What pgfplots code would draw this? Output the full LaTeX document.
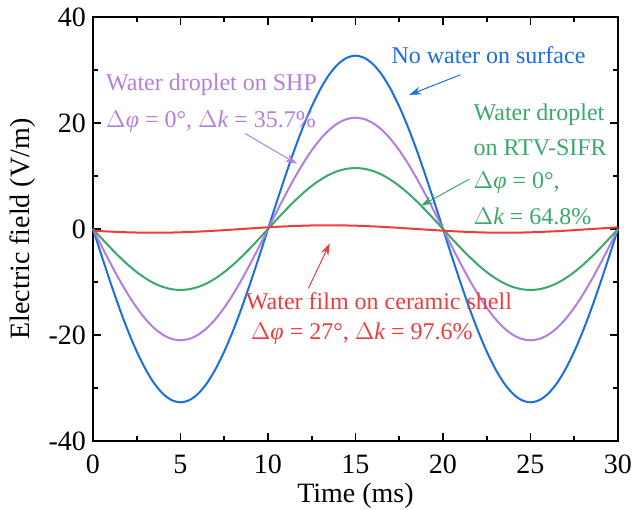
\documentclass[border=0pt]{standalone}
\usepackage{pgfplots}
\pgfplotsset{compat=1.18}
\usepackage{pgfplotstable}
\usepackage{fontspec}
\setmainfont{Liberation Serif}
\usetikzlibrary{arrows.meta}
\definecolor{cblue}{HTML}{1A6EE0}
\definecolor{cpurple}{HTML}{B47EE0}
\definecolor{cgreen}{HTML}{3AA86A}
\definecolor{cred}{HTML}{EE3C3C}
\pgfplotstableread{
t b p g r
0 0 0 0 -0.318
0.5 -5.12 -3.29 -1.80 -0.411
1 -10.10 -6.49 -3.55 -0.495
1.5 -14.85 -9.53 -5.22 -0.566
2 -19.22 -12.34 -6.76 -0.624
2.5 -23.12 -14.85 -8.13 -0.666
3 -26.45 -16.99 -9.30 -0.691
3.5 -29.14 -18.71 -10.25 -0.700
4 -31.10 -19.97 -10.94 -0.691
4.5 -32.30 -20.74 -11.36 -0.666
5 -32.70 -21.00 -11.50 -0.624
5.5 -32.30 -20.74 -11.36 -0.566
6 -31.10 -19.97 -10.94 -0.495
6.5 -29.14 -18.71 -10.25 -0.411
7 -26.45 -16.99 -9.30 -0.318
7.5 -23.12 -14.85 -8.13 -0.216
8 -19.22 -12.34 -6.76 -0.109
8.5 -14.85 -9.53 -5.22 0
9 -10.10 -6.49 -3.55 0.109
9.5 -5.12 -3.29 -1.80 0.216
10 0 0 0 0.318
10.5 5.12 3.29 1.80 0.411
11 10.10 6.49 3.55 0.495
11.5 14.85 9.53 5.22 0.566
12 19.22 12.34 6.76 0.624
12.5 23.12 14.85 8.13 0.666
13 26.45 16.99 9.30 0.691
13.5 29.14 18.71 10.25 0.700
14 31.10 19.97 10.94 0.691
14.5 32.30 20.74 11.36 0.666
15 32.70 21.00 11.50 0.624
15.5 32.30 20.74 11.36 0.566
16 31.10 19.97 10.94 0.495
16.5 29.14 18.71 10.25 0.411
17 26.45 16.99 9.30 0.318
17.5 23.12 14.85 8.13 0.216
18 19.22 12.34 6.76 0.109
18.5 14.85 9.53 5.22 0
19 10.10 6.49 3.55 -0.109
19.5 5.12 3.29 1.80 -0.216
20 0 0 0 -0.318
20.5 -5.12 -3.29 -1.80 -0.411
21 -10.10 -6.49 -3.55 -0.495
21.5 -14.85 -9.53 -5.22 -0.566
22 -19.22 -12.34 -6.76 -0.624
22.5 -23.12 -14.85 -8.13 -0.666
23 -26.45 -16.99 -9.30 -0.691
23.5 -29.14 -18.71 -10.25 -0.700
24 -31.10 -19.97 -10.94 -0.691
24.5 -32.30 -20.74 -11.36 -0.666
25 -32.70 -21.00 -11.50 -0.624
25.5 -32.30 -20.74 -11.36 -0.566
26 -31.10 -19.97 -10.94 -0.495
26.5 -29.14 -18.71 -10.25 -0.411
27 -26.45 -16.99 -9.30 -0.318
27.5 -23.12 -14.85 -8.13 -0.216
28 -19.22 -12.34 -6.76 -0.109
28.5 -14.85 -9.53 -5.22 0
29 -10.10 -6.49 -3.55 0.109
29.5 -5.12 -3.29 -1.80 0.216
30 0 0 0 0.318
}\datatable
\begin{document}
\begin{tikzpicture}
\begin{axis}[
  scale only axis,
  width=262.5pt, height=212pt,
  xmin=0, xmax=30, ymin=-40, ymax=40,
  xtick={0,5,...,30}, ytick={-40,-20,0,20,40},
  minor x tick num=1, minor y tick num=1,
  tick align=inside,
  major tick length=4pt, minor tick length=2.5pt,
  axis line style={line width=1pt},
  every tick/.style={black, line width=0.8pt},
  /pgf/number format/assume math mode=true,
  tick label style={font=\fontsize{14}{16}\selectfont},
  xticklabel style={yshift=-3.5pt},
  xlabel={Time (ms)}, ylabel={Electric field (V/m)},
  label style={font=\fontsize{14}{16}\selectfont},
  xlabel style={at={(axis description cs:0.5,0)}, anchor=center, yshift=-27.5pt},
  ylabel style={at={(axis description cs:0,0.5)}, anchor=center, yshift=35pt},
  clip=false,
]
\addplot[cblue, line width=1pt, smooth] table[x=t, y=b] {\datatable};
\addplot[cpurple, line width=1pt, smooth] table[x=t, y=p] {\datatable};
\addplot[cgreen, line width=1pt, smooth] table[x=t, y=g] {\datatable};
\addplot[cred, line width=1pt, smooth] table[x=t, y=r] {\datatable};

\begin{scope}[font=\fontsize{12}{14}\selectfont]
\node[cblue, anchor=center] at (axis cs:22.6,32.8) {No water on surface};
\draw[cblue, line width=0.5pt, -{Stealth[length=6pt,width=4pt]}] (axis cs:21.0,29.1) -- (axis cs:18.07,25.3);

\node[cpurple, anchor=west, inner sep=0pt] at (axis cs:0.73,27.2) {Water droplet on SHP};
\node[cpurple, anchor=west, inner sep=0pt] at (axis cs:0.73,20.3) {$\Delta${\itshape φ} = 0°, $\Delta${\itshape k} = 35.7\%};
\draw[cpurple, line width=0.5pt, -{Stealth[length=6pt,width=4pt]}] (axis cs:8.70,18.0) -- (axis cs:11.65,12.3);

\node[cgreen, anchor=west, inner sep=0pt] at (axis cs:21.73,21.6) {Water droplet};
\node[cgreen, anchor=west, inner sep=0pt] at (axis cs:21.73,15.3) {on RTV-SIFR};
\node[cgreen, anchor=west, inner sep=0pt] at (axis cs:21.73,8.7) {$\Delta${\itshape φ} = 0°,};
\node[cgreen, anchor=west, inner sep=0pt] at (axis cs:21.73,2.45) {$\Delta${\itshape k} = 64.8\%};
\draw[cgreen, line width=0.5pt, -{Stealth[length=6pt,width=4pt]}] (axis cs:21.5,9.4) -- (axis cs:18.75,4.4);

\node[cred, anchor=west, inner sep=0pt] at (axis cs:8.72,-13.7) {Water film on ceramic shell};
\node[cred, anchor=west, inner sep=0pt] at (axis cs:9.0,-19.8) {$\Delta${\itshape φ} = 27°, $\Delta${\itshape k} = 97.6\%};
\draw[cred, line width=0.5pt, -{Stealth[length=6pt,width=4pt]}] (axis cs:12.31,-11.2) -- (axis cs:13.53,-2.7);
\end{scope}
\end{axis}
\pgfresetboundingbox
\path[use as bounding box] ([shift={(-46.5pt,-34.5pt)}]current axis.south west) rectangle ([shift={(8pt,8.5pt)}]current axis.north east);
\end{tikzpicture}
\end{document}
